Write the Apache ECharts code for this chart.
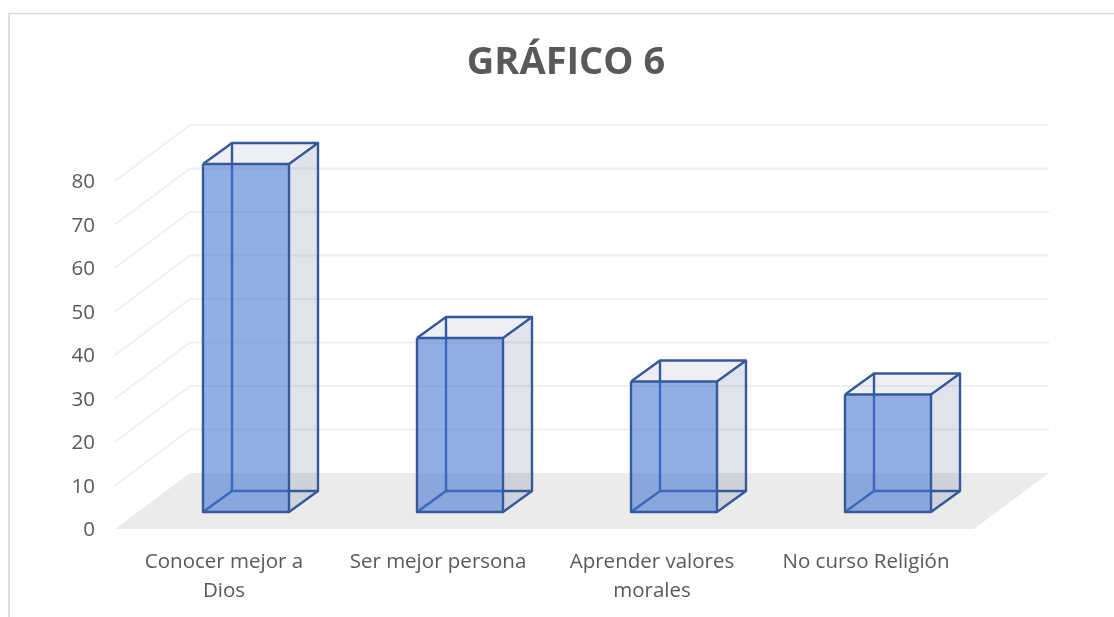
<!DOCTYPE html>
<html><head><meta charset="utf-8">
<style>html,body{margin:0;padding:0;background:#fff}#c{width:1114px;height:617px}</style>
<script src="https://cdn.jsdelivr.net/npm/echarts@6/dist/echarts.min.js"></script>
</head><body><div id="c"></div>
<script>
const categories = ['Conocer mejor a\nDios', 'Ser mejor persona', 'Aprender valores\nmorales', 'No curso Religión'];
const values = [80, 40, 30, 27];
const gridValues = [10, 20, 30, 40, 50, 60, 70, 80];
const titleText = 'GRÁFICO 6';

const FONT = '"Open Sans", sans-serif';
const DEPTH = [75, -56];          // floor depth, front to back
const BAR_SHIFT = [22, -17];      // bar's front plane relative to the axis plane
const BAR_DEPTH = [29, -21];
const BAR_W = 86;
const EDGE = '#35599B';

const chart = echarts.init(document.getElementById('c'), null, {renderer: 'canvas'});

function wallItem(params, api) {
  const v = api.value(0);
  const rect = params.coordSys;
  const y = api.coord([0, v])[1];
  const x0 = rect.x - 2, x1 = rect.x + rect.width + 1;
  if (v === 0) {
    return {type: 'polygon', shape: {points: [[x0, y], [x0 + DEPTH[0], y + DEPTH[1]], [x1 + DEPTH[0], y + DEPTH[1]], [x1, y]]},
      style: {fill: '#EBEBEB'}, silent: true};
  }
  return {type: 'polyline', shape: {points: [[x0, y], [x0 + DEPTH[0], y + DEPTH[1]], [x1 + DEPTH[0], y + DEPTH[1]]]},
    style: {fill: null, stroke: '#F0F0F0', lineWidth: 2}, silent: true};
}

function barItem(params, api) {
  const base = api.coord([api.value(0), 0]);
  const top = api.coord([api.value(0), api.value(1)]);
  const l = base[0] - BAR_W / 2 + BAR_SHIFT[0], r = l + BAR_W;
  const b = base[1] + BAR_SHIFT[1], t = top[1] + BAR_SHIFT[1];
  const dx = BAR_DEPTH[0], dy = BAR_DEPTH[1];
  const edge = (pts) => ({type: 'polyline', shape: {points: pts}, style: {fill: null, stroke: EDGE, lineWidth: 2.4, lineJoin: 'round'}, silent: true});
  const face = (pts, fill) => ({type: 'polygon', shape: {points: pts}, style: {fill: fill, stroke: null}, silent: true});
  return {type: 'group', children: [
    face([[r, b], [r + dx, b + dy], [r + dx, t + dy], [r, t]], 'rgba(60,80,130,0.16)'),
    face([[l, t], [l + dx, t + dy], [r + dx, t + dy], [r, t]], 'rgba(60,80,130,0.09)'),
    edge([[l + dx, t + dy], [l + dx, b + dy], [r + dx, b + dy]]),
    edge([[l, b], [l + dx, b + dy]]),
    face([[l, b], [l, t], [r, t], [r, b]], 'rgba(66,116,210,0.58)'),
    edge([[l, t], [l + dx, t + dy], [r + dx, t + dy], [r, t]]),
    edge([[r + dx, t + dy], [r + dx, b + dy], [r, b]]),
    edge([[l, t], [r, t], [r, b], [l, b], [l, t]])
  ]};
}

chart.setOption({
  animation: false,
  backgroundColor: '#fff',
  title: {text: titleText, left: 561, top: 39, textAlign: 'center',
    textStyle: {fontFamily: FONT, fontSize: 38, fontWeight: 'bold', color: '#595959'}},
  graphic: [
    {type: 'line', silent: true, z: -1, shape: {x1: 8, y1: 13.5, x2: 1114, y2: 13.5}, style: {stroke: '#D9D9D9', lineWidth: 1.5}},
    {type: 'line', silent: true, z: -1, shape: {x1: 9, y1: 13, x2: 9, y2: 617}, style: {stroke: '#DDDDDD', lineWidth: 2}}
  ],
  grid: {left: 117, right: 141, top: 181, bottom: 88},
  xAxis: {type: 'category', data: categories, axisLine: {show: false}, axisTick: {show: false},
    axisLabel: {fontFamily: FONT, fontSize: 20.5, color: '#595959', lineHeight: 29, margin: 19, interval: 0}},
  yAxis: {type: 'value', min: 0, max: 80, interval: 10, splitLine: {show: false}, axisLine: {show: false}, axisTick: {show: false},
    axisLabel: {margin: 22, formatter: '{a|{value}}',
      rich: {a: {fontFamily: FONT, fontSize: 20.5, color: '#595959', padding: [3, 0, 0, 0]}}}},
  series: [
    {type: 'custom', coordinateSystem: 'cartesian2d', renderItem: wallItem, z: 1,
      encode: {x: 1, y: 0}, data: [[0, 0]].concat(gridValues.map(v => [v, 0]))},
    {type: 'custom', coordinateSystem: 'cartesian2d', renderItem: barItem, z: 2,
      encode: {x: 0, y: 1}, data: values.map((v, i) => [i, v])}
  ]
});
</script></body></html>
